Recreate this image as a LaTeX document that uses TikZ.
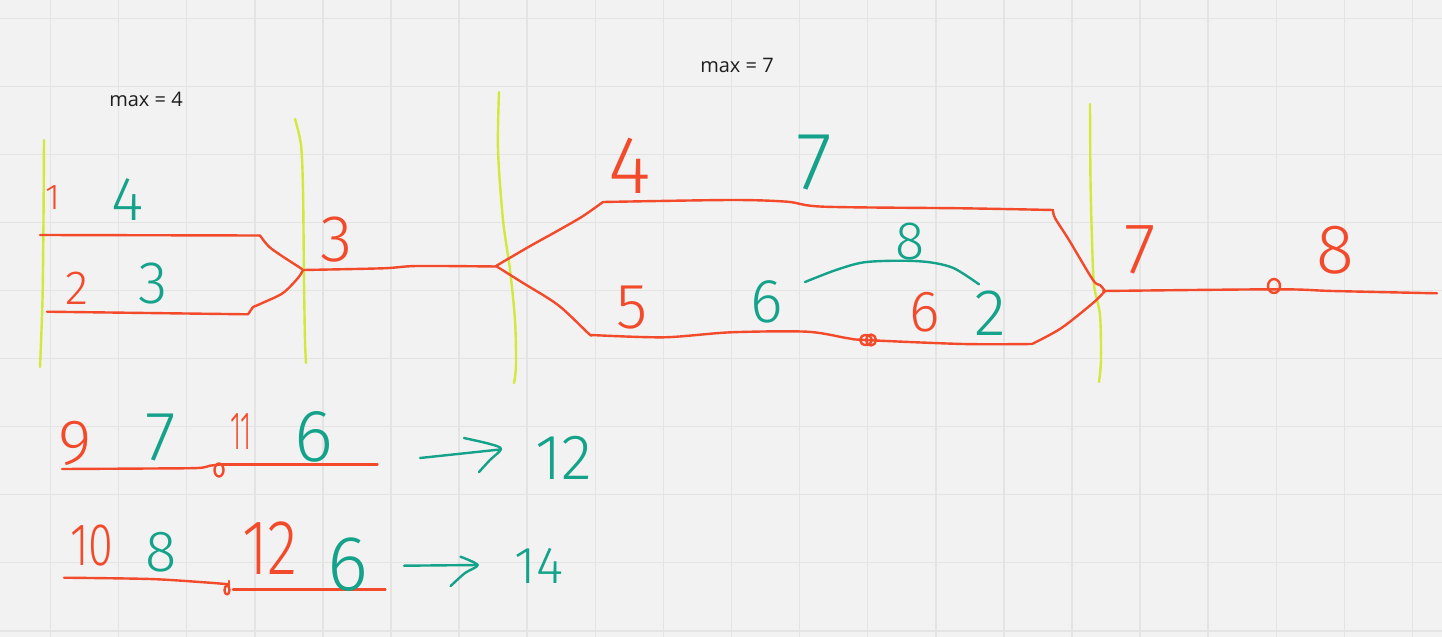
\documentclass[tikz,border=0pt]{standalone}
\usepackage{fontspec}
\setmainfont{Open Sans}
\IfFontExistsTF{Fira Sans Light}{\newfontfamily\hand{Fira Sans Light}}{%
 \IfFontExistsTF{Lato Light}{\newfontfamily\hand{Lato Light}}{%
  \IfFontExistsTF{Open Sans Light}{\newfontfamily\hand{Open Sans Light}}{%
   \newfontfamily\hand{Carlito}}}}
\newcommand\hsz[1]{\hand\fontsize{#1}{#1}\selectfont}
\definecolor{bg}{HTML}{F2F2F2}
\definecolor{gridc}{HTML}{E4E4E4}
\definecolor{rd}{HTML}{F24A2A}
\definecolor{gn}{HTML}{14A38A}
\definecolor{yg}{HTML}{D2E83A}
\definecolor{ink}{HTML}{1E1E1E}
\tikzset{
  rline/.style={draw=rd,line width=1.2pt,line cap=round,line join=round},
  gline/.style={draw=gn,line width=1.2pt,line cap=round,line join=round},
  yline/.style={draw=yg,line width=1.2pt,line cap=round,line join=round},
  hd/.style={inner sep=0pt,outer sep=0pt},
}
\begin{document}
\begin{tikzpicture}[x=0.5pt,y=-0.5pt]
\fill[bg] (0,0) rectangle (1442,637);
\useasboundingbox (0,0) rectangle (1442,637);
% grid
\foreach \k in {0,...,20} \draw[gridc,line width=0.75pt] ({50.5+68.1*\k},0) -- ({50.5+68.1*\k},637);
\foreach \k in {0,...,9} \draw[gridc,line width=0.75pt] (0,{18.3+68.05*\k}) -- (1442,{18.3+68.05*\k});
% titles
\node[text=ink,font=\fontsize{10}{10}\selectfont] (m4) at (146,99) {max = 4};
\node[text=ink,font=\fontsize{10}{10}\selectfont] (m7) at (737,65) {max = 7};
% yellow bars
\draw[yline] plot[smooth] coordinates {(44,140) (43.5,220) (42.5,300) (40,367)};
\draw[yline] plot[smooth] coordinates {(295,119) (301,145) (303,190) (304,280) (305,340) (306,363)};
\draw[yline] plot[smooth] coordinates {(499,92) (498,150) (503,220) (510,270) (515,320) (516,365) (514,383)};
\draw[yline] plot[smooth] coordinates {(1090,104) (1090.5,180) (1092,240) (1094,285) (1100,315) (1101,360) (1099,382)};
% left block
\draw[rline] (40,235) -- (260,235.5);
\draw[rline] plot[smooth] coordinates {(260,235.5) (269,246.7) (283,256.7) (302,269)};
\draw[rline] (47,311.7) -- (248,314.3) -- (253,307);
\draw[rline] plot[smooth] coordinates {(253,307) (263,302.7) (283,293) (298,278) (303,270)};
\draw[rline] plot[smooth] coordinates {(303,270) (383,268.3) (417,266) (496,266.5)};
% middle block
\draw[rline] plot[smooth] coordinates {(496,266) (529,246.7) (556,231.7) (582,216.7) (603,202)};
\draw[rline] plot[smooth] coordinates {(603,202) (731,200) (787,201.7) (824,206.7) (963,208.3) (1053,210)};
\draw[rline] plot[smooth] coordinates {(1053,210) (1055,218) (1069,240) (1093,280) (1100,285) (1105,291)};
\draw[rline] plot[smooth] coordinates {(496,266) (521,281.7) (558,305) (588,333) (591,335)};
\draw[rline] plot[smooth] coordinates {(591,335) (664,337.3) (731,332.3) (807,331.7) (848,338.3) (865,340) (963,344) (1032,344)};
\draw[rline] plot[smooth] coordinates {(1032,344) (1061,328.3) (1093,303) (1105,291)};
\draw[rline] (866,340) ellipse[x radius=6,y radius=5];
\draw[rline] (871,340) ellipse[x radius=5,y radius=5.5];
% right tail
\draw[rline] plot[smooth] coordinates {(1103,291) (1277,289.3) (1333,291) (1437,293.3)};
\draw[rline] (1274,286) ellipse[x radius=6,y radius=7];
% green arc
\draw[gline] plot[smooth] coordinates {(805,282) (836,270) (864,262.3) (901,260.7) (930,262.3) (954,268.3) (979,284.3)};
% bottom rows
\draw[rline] plot[smooth] coordinates {(62,469) (150,468.5) (198,468) (210,465.7) (222,464.3)};
\draw[rline] (222,464.3) -- (377.5,464.3);
\draw[rline] (219,470) ellipse[x radius=4.5,y radius=6.5];
\draw[gline] (420,458) -- (500,449.5);
\draw[gline] plot[smooth] coordinates {(464,438) (490,444) (501,449) (490,460) (479,472)};
\draw[rline] plot[smooth] coordinates {(64,577.7) (150,579) (204,582.3) (229,584.3)};
\draw[rline] (233,589.3) -- (385.4,589.3);
\draw[rline] (227,590) ellipse[x radius=2.5,y radius=4.5];
\draw[rline] (229,581) -- (229,588);
\draw[gline] (404,565.7) -- (478,565);
\draw[gline] plot[smooth] coordinates {(460.5,556.7) (477.5,565) (465,573) (450.6,586)};
% digits
\node[hd,text=rd,font=\hsz{18}] (t1) at (52.5,198) {1};
\node[hd,text=gn,font=\hsz{31}] (t2) at (128,200) {4};
\node[hd,text=rd,font=\hsz{24}] (t3) at (77,288) {2};
\node[hd,text=gn,font=\hsz{30}] (t4) at (153,284) {3};
\node[hd,text=rd,font=\hsz{33}] (t5) at (337,240) {3};
\node[hd,text=rd,font=\hsz{41}] (t6) at (630,166) {4};
\node[hd,text=gn,font=\hsz{41}] (t7) at (814,163) {7};
\node[hd,text=gn,font=\hsz{27}] (t8) at (910,242) {8};
\node[hd,text=rd,font=\hsz{32}] (t9) at (632,308) {5};
\node[hd,text=gn,font=\hsz{31}] (t10) at (767,302) {6};
\node[hd,text=rd,font=\hsz{29}] (t11) at (925,312) {6};
\node[hd,text=gn,font=\hsz{33}] (t12) at (990,313) {2};
\node[hd,text=rd,font=\hsz{36}] (t13) at (1140,250) {7};
\node[hd,text=rd,font=\hsz{35}] (t14) at (1335,250) {8};
\node[hd,text=rd,font=\hsz{32}] (t15) at (75,443) {9};
\node[hd,text=gn,font=\hsz{35}] (t16) at (161,438) {7};
\node[hd,text=rd,font=\hsz{27}] (t17) at (241,432) {\scalebox{0.5}[1]{11}};
\node[hd,text=gn,font=\hsz{37}] (t18) at (314,437) {6};
\node[hd,text=gn,font=\hsz{32}] (t19) at (564,458) {12};
\node[hd,text=rd,font=\hsz{30}] (t20) at (92,546) {\scalebox{0.75}[1]{10}};
\node[hd,text=gn,font=\hsz{29}] (t21) at (161,552) {8};
\node[hd,text=rd,font=\hsz{39}] (t22) at (270,548) {\scalebox{0.8}[1]{12}};
\node[hd,text=gn,font=\hsz{39}] (t23) at (348,565) {6};
\node[hd,text=gn,font=\hsz{26}] (t24) at (539,566) {14};
\end{tikzpicture}
\end{document}
